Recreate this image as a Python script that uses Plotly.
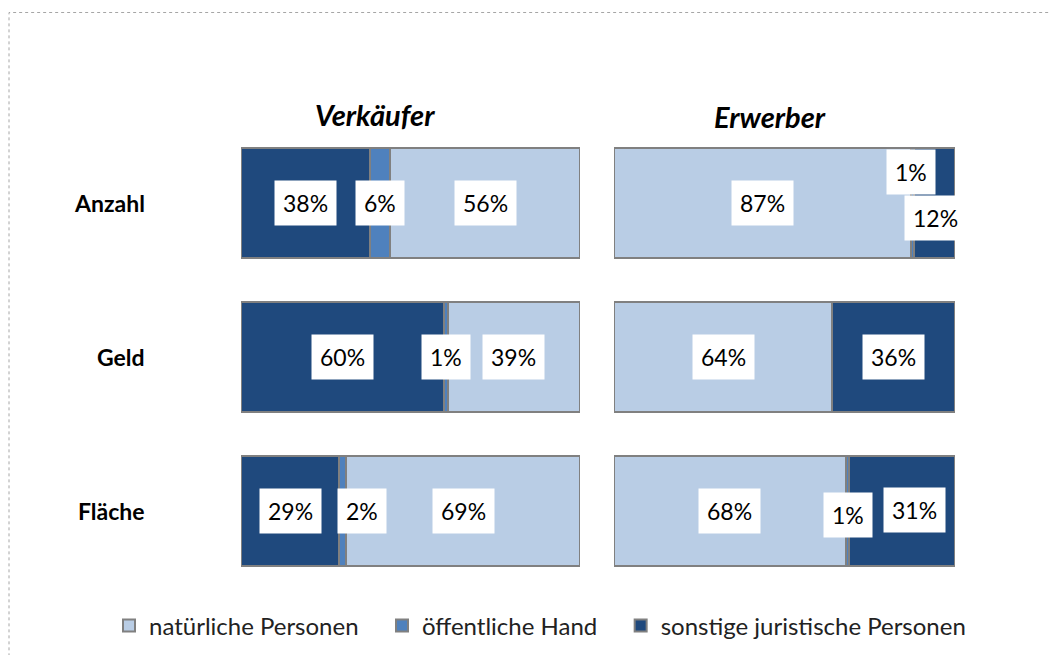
import plotly.graph_objects as go

W, H = 1059, 655
OFF = 8  # the page body adds an 8px margin around the figure

categories = ["Anzahl", "Geld", "Fläche"]

# Verkäufer (left panel), shares in percent
verk_sonstige = [38, 60, 29]
verk_oeffentlich = [6, 1, 2]
verk_natuerlich = [56, 39, 69]

# Erwerber (right panel), shares in percent
erw_natuerlich = [87, 64, 68]
erw_oeffentlich = [1, 0, 1]
erw_sonstige = [12, 36, 31]

names = {
    "nat": "natürliche Personen",
    "oef": "öffentliche Hand",
    "son": "sonstige juristische Personen",
}
colors = {"nat": "#B9CDE5", "oef": "#4F81BD", "son": "#1F497D"}
rank = {"nat": 1, "oef": 2, "son": 3}
edge = "#808080"
font = "Lato"


def px(x):
    return (x - OFF) / W


def py(y):
    return 1 - (y - OFF) / H


# label nudges in pixels (panel, key, category) -> (dx, dy)
nudges = {
    ("x", "oef", "Fläche"): (19, 0),
    ("x2", "oef", "Anzahl"): (-1, 31),
    ("x2", "son", "Anzahl"): (1, -15),
    ("x2", "oef", "Fläche"): (0, -4),
    ("x2", "son", "Fläche"): (12, 1),
}

panels = [
    ("x", [("son", verk_sonstige), ("oef", verk_oeffentlich), ("nat", verk_natuerlich)]),
    ("x2", [("nat", erw_natuerlich), ("oef", erw_oeffentlich), ("son", erw_sonstige)]),
]

fig = go.Figure()
annotations = []

for xa, series in panels:
    base = [0] * len(categories)
    for key, vals in series:
        fig.add_trace(go.Bar(
            y=categories, x=vals, orientation="h",
            name=names[key] + "\u00a0" * 3, legendgroup=key, legendrank=rank[key],
            showlegend=(xa == "x"),
            marker=dict(color=colors[key], line=dict(color=edge, width=2)),
            xaxis=xa, yaxis="y", hoverinfo="skip",
        ))
        for i, (cat, v) in enumerate(zip(categories, vals)):
            if v > 0:
                dx, dy = nudges.get((xa, key, cat), (0, 0))
                annotations.append(dict(
                    x=base[i] + v / 2, y=cat, xref=xa, yref="y",
                    xanchor="center", yanchor="middle",
                    text=f"{v}%", showarrow=False,
                    font=dict(family=font, size=23, color="#000000"),
                    bgcolor="#FFFFFF", borderpad=8,
                    xshift=dx, yshift=dy,
                ))
            base[i] += v

# category labels
for cat in categories:
    annotations.append(dict(
        x=px(147), y=cat, xref="paper", yref="y",
        xanchor="right", yanchor="middle",
        text=f"<b>{cat}</b>", showarrow=False,
        font=dict(family=font, size=23, color="#000000"),
    ))

# panel titles
for title, tx, ty in [("Verkäufer", 375, 115), ("Erwerber", 770, 117)]:
    annotations.append(dict(
        x=px(tx), y=py(ty), xref="paper", yref="paper",
        xanchor="center", yanchor="middle",
        text=f"<b><i>{title}</i></b>", showarrow=False,
        font=dict(family=font, size=29, color="#000000"),
    ))

# figure number, cut off at the top edge
annotations.append(dict(
    x=px(5), y=py(8), xref="paper", yref="paper",
    xanchor="left", yanchor="bottom",
    text="Abb. 28", showarrow=False,
    font=dict(family=font, size=18, color="#7F7F7F"),
))

fig.update_layout(
    width=W, height=H,
    margin=dict(l=0, r=0, t=0, b=0),
    paper_bgcolor="#FFFFFF", plot_bgcolor="rgba(0,0,0,0)",
    barmode="stack", bargap=0.286,
    xaxis=dict(domain=[px(241), px(580)], range=[0, 100], visible=False),
    xaxis2=dict(domain=[px(614), px(955)], range=[0, 100], visible=False, anchor="y"),
    yaxis=dict(domain=[py(588), py(126)], autorange="reversed",
               categoryorder="array", categoryarray=categories, visible=False),
    legend=dict(orientation="h", x=px(109), y=py(626), xanchor="left", yanchor="middle",
                font=dict(family=font, size=24, color="#222222"),
                itemclick=False, itemdoubleclick=False, traceorder="normal"),
    annotations=annotations,
    shapes=[dict(type="rect", xref="paper", yref="paper",
                 x0=px(9), x1=1.05, y0=-0.05, y1=py(12.5),
                 line=dict(color="#A6A6A6", width=1, dash="dot"))],
)

fig.write_html("out.html")
